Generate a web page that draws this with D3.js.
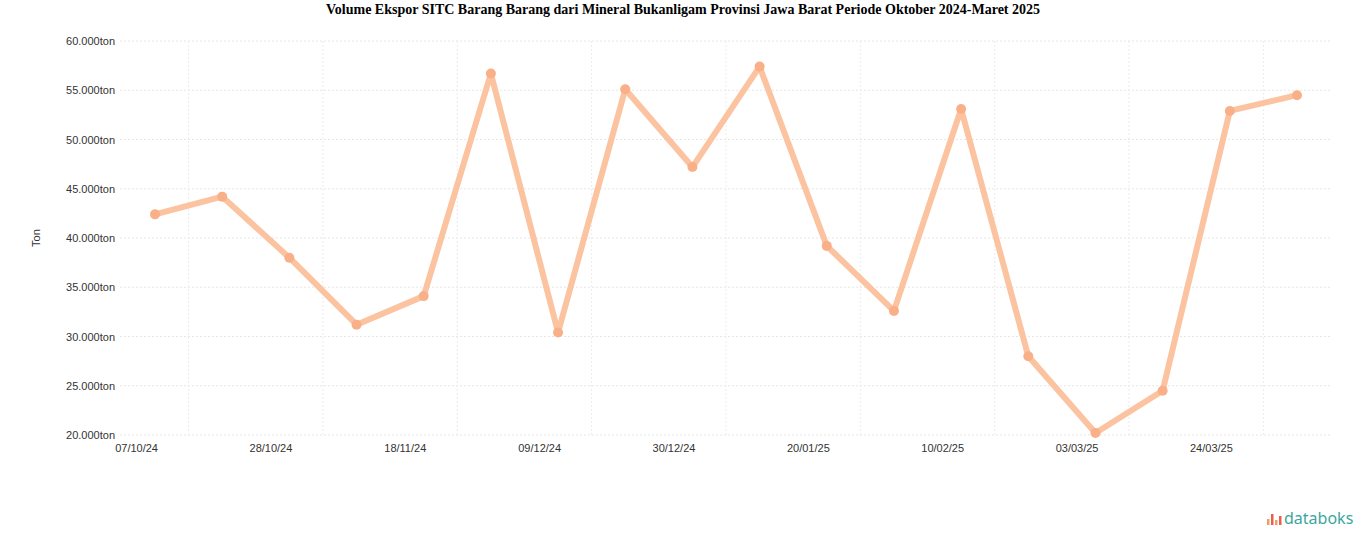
<!DOCTYPE html>
<html><head><meta charset="utf-8">
<script src="https://cdn.jsdelivr.net/npm/d3@7/dist/d3.min.js"></script>
<style>body{margin:0;background:#fff}</style></head>
<body><svg id="c" width="1366" height="547"></svg>
<script>
const values=[42400,44200,38000,31200,34100,56700,30400,55100,47200,57400,39200,32600,53100,28000,20200,24500,52900,54500];
const yTicks=[20000,25000,30000,35000,40000,45000,50000,55000,60000];
const xTickPos=[0.5,2.5,4.5,6.5,8.5,10.5,12.5,14.5,16.5];
const xTickLabels=["07/10/24","28/10/24","18/11/24","09/12/24","30/12/24","20/01/25","10/02/25","03/03/25","24/03/25"];
const svg=d3.select("#c");
const x=d3.scaleLinear().domain([0,17]).range([155,1297]);
const y=d3.scaleLinear().domain([20000,60000]).range([435,41]);
const fmt=d3.formatLocale({decimal:",",thousands:".",grouping:[3]}).format(",");
svg.append("text").attr("x",683).attr("y",14).attr("text-anchor","middle")
 .attr("font-family","Liberation Serif").attr("font-weight","bold").attr("font-size",14)
 .text("Volume Ekspor SITC Barang Barang dari Mineral Bukanligam Provinsi Jawa Barat Periode Oktober 2024-Maret 2025");
svg.selectAll(".hg").data(yTicks).join("line").attr("x1",120).attr("x2",1330)
 .attr("y1",d=>y(d)).attr("y2",d=>y(d)).attr("stroke","#e6e6e6").attr("stroke-dasharray","2,2");
svg.selectAll(".vg").data(xTickPos).join("line").attr("x1",d=>x(d)).attr("x2",d=>x(d))
 .attr("y1",41).attr("y2",435).attr("stroke","#ececec").attr("stroke-dasharray","2,2");
svg.selectAll(".yl").data(yTicks).join("text").attr("x",115).attr("y",d=>y(d)+4)
 .attr("text-anchor","end").attr("font-family","Liberation Sans").attr("font-size",11).attr("fill","#333")
 .text(d=>fmt(d)+"ton");
svg.selectAll(".xl").data(xTickPos).join("text").attr("x",(d)=>x(d)-52).attr("y",452)
 .attr("text-anchor","middle").attr("font-family","Liberation Sans").attr("font-size",11).attr("fill","#333")
 .text((d,i)=>xTickLabels[i]);
svg.append("text").attr("transform","translate(40,238) rotate(-90)").attr("text-anchor","middle")
 .attr("font-family","Liberation Sans").attr("font-size",11).attr("fill","#333").text("Ton");
svg.append("path").datum(values).attr("fill","none").attr("stroke","#fbc3a0").attr("stroke-width",6)
 .attr("stroke-linejoin","round").attr("d",d3.line().x((d,i)=>x(i)).y(d=>y(d)));
svg.selectAll(".pt").data(values).join("circle").attr("cx",(d,i)=>x(i)).attr("cy",d=>y(d)).attr("r",5).attr("fill","#f9b089");
const g=svg.append("g").attr("transform","translate(1267,525)");
[[0,6],[4,11],[8,5],[12,9]].forEach((b,i)=>g.append("rect").attr("x",b[0]).attr("y",-b[1]).attr("width",2.5).attr("height",b[1]).attr("fill",i%2?"#e8604c":"#f39c6b"));
svg.append("text").attr("x",1284).attr("y",524).attr("font-family","Noto Sans").attr("font-size",16).attr("fill","#3aa6a0").text("databoks");
</script></body></html>
